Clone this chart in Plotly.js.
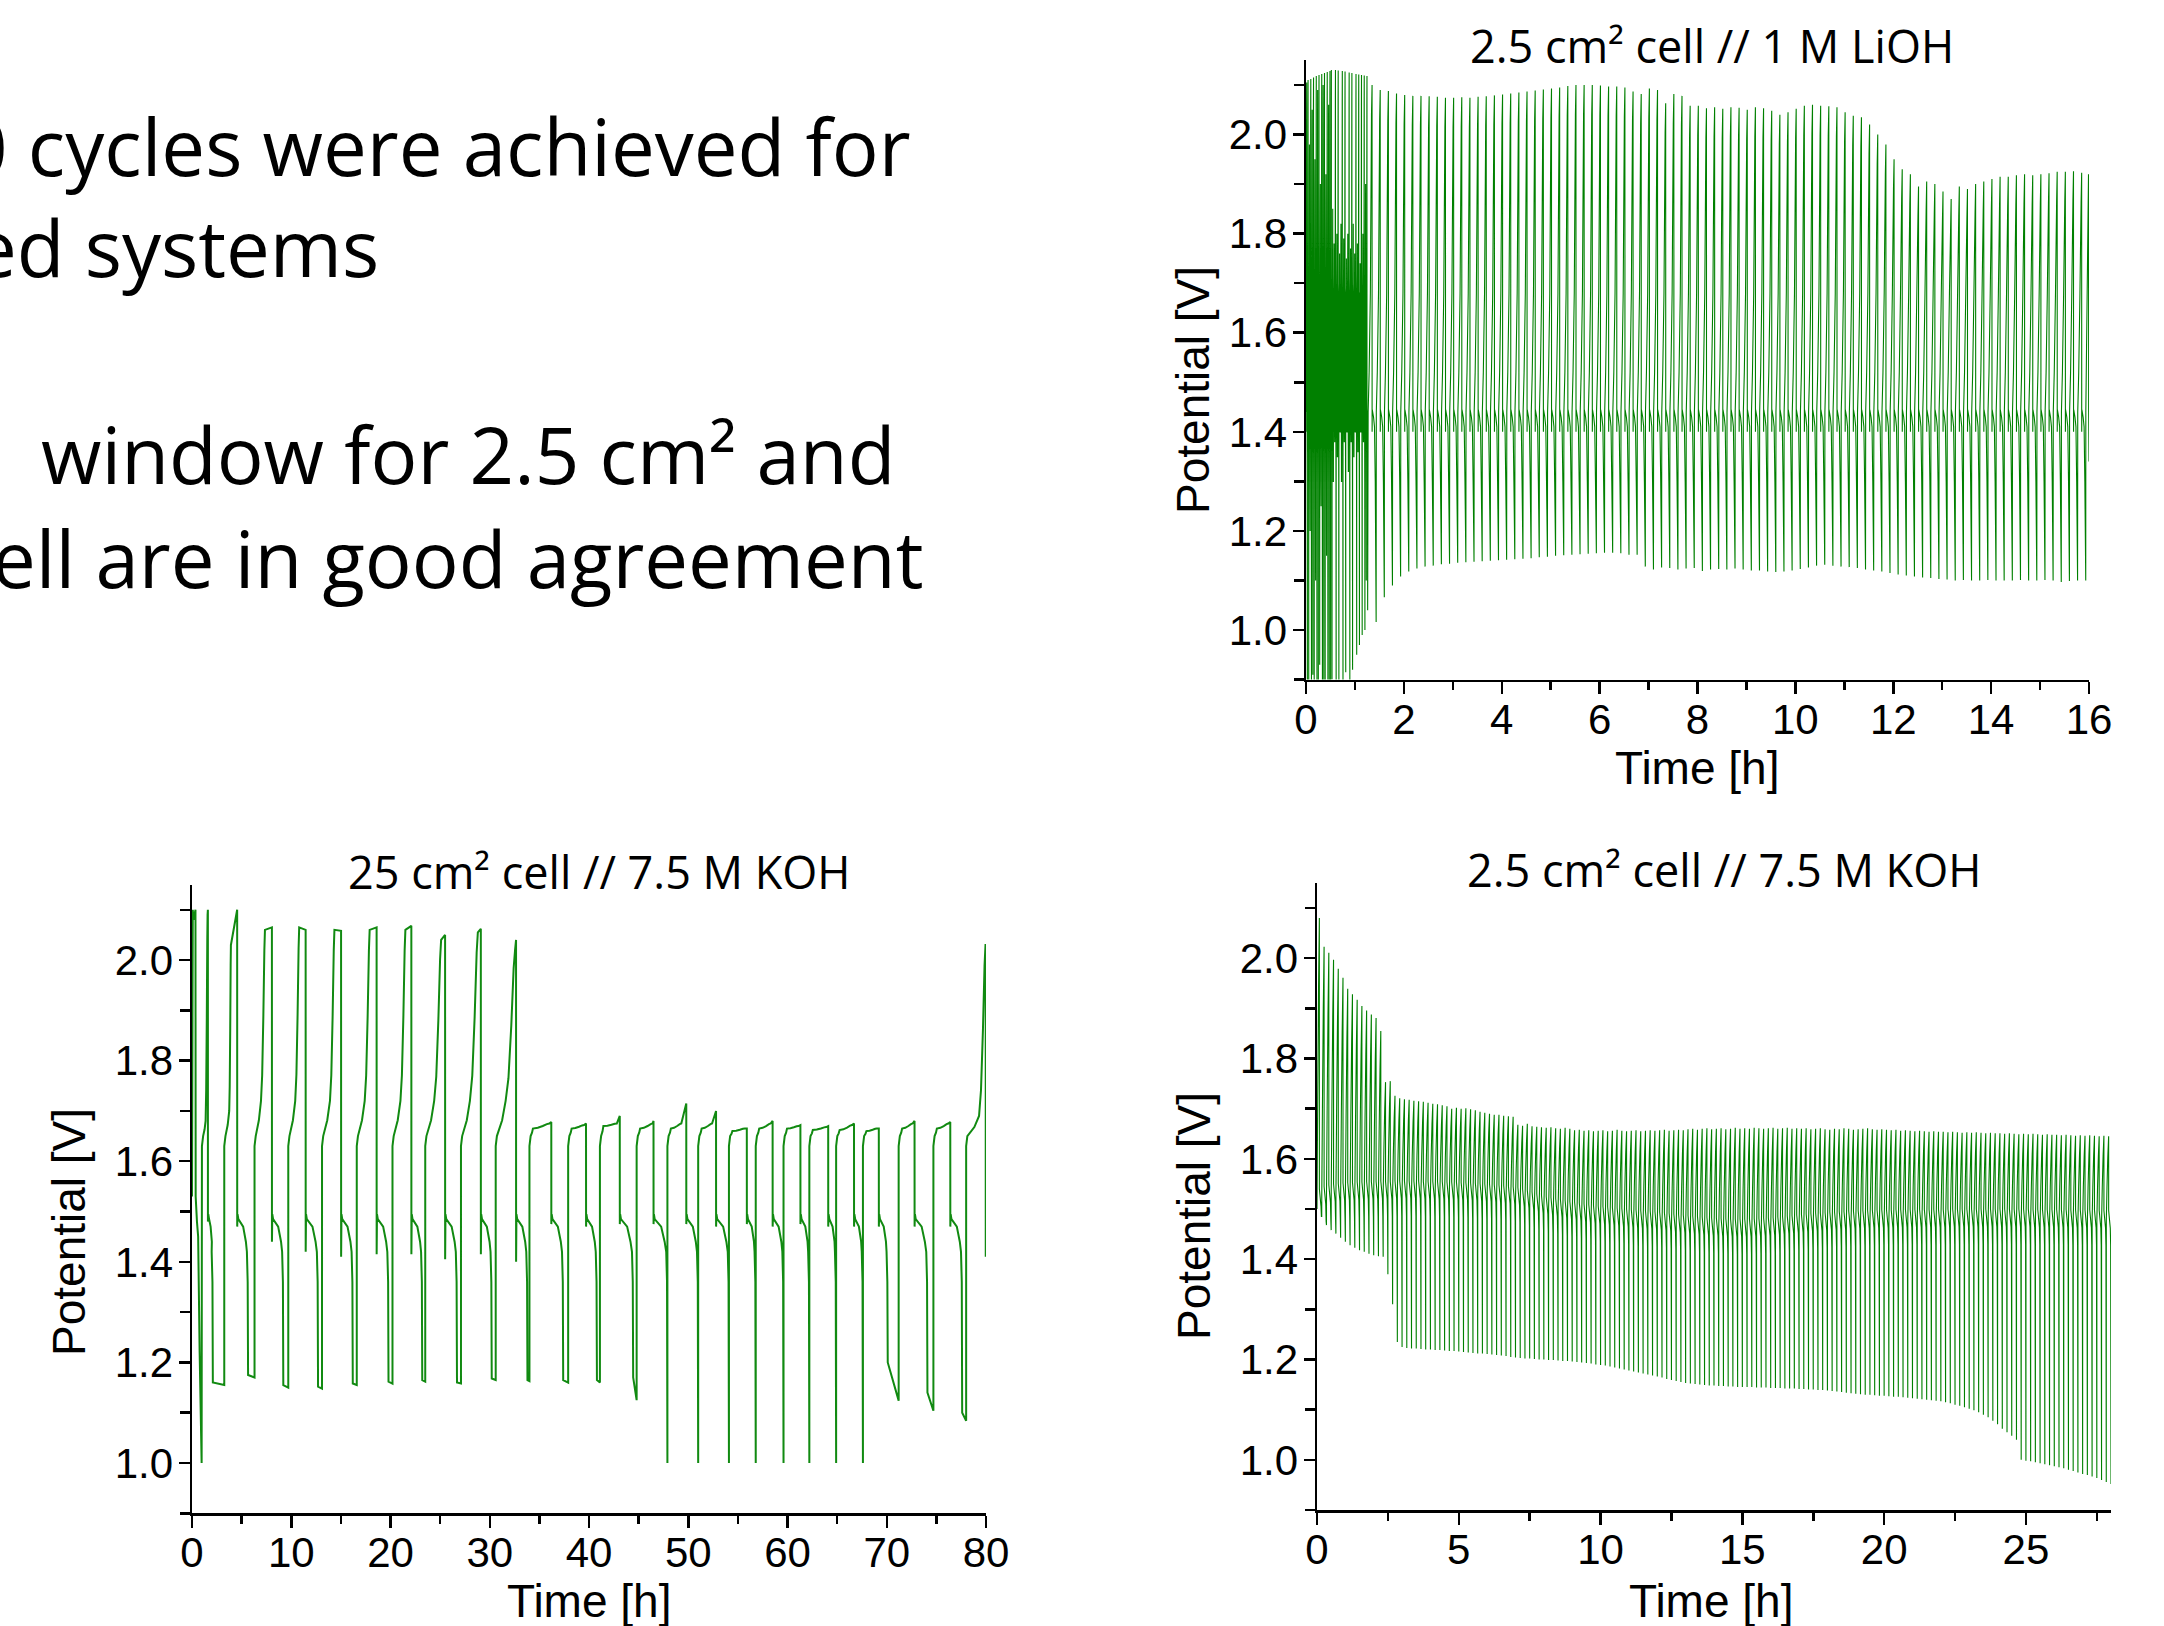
<!DOCTYPE html>
<html><head><meta charset="utf-8">
<script src="https://cdn.plot.ly/plotly-3.0.1.min.js"></script>
<style>html,body{margin:0;padding:0;background:#fff;overflow:hidden}#chart{width:2164px;height:1626px}</style>
</head><body><div id="chart"></div>
<script>
// ===================== DATA =====================
// Panel A: 2.5 cm² cell // 1 M LiOH  (time in h, potential in V)
const liohFastPeakT = [0.014,0.042,0.070,0.098,0.126,0.154,0.182,0.210,0.238,0.266,0.294,0.322,0.350,0.378,0.406,0.434,0.462,0.490,0.518,0.546,0.574,0.602,0.630,0.658,0.686,0.714,0.742,0.770,0.798,0.826,0.854,0.882,0.910,0.938,0.966,0.994,1.022,1.050,1.078,1.106,1.134,1.162,1.190,1.218,1.246];
const liohFastTop = [2.105,2.110,1.980,2.112,2.050,2.115,1.950,2.118,2.090,2.120,1.900,2.122,2.100,2.124,1.920,2.126,2.060,2.128,2.130,1.850,1.780,2.130,1.800,2.129,1.760,1.820,2.128,1.790,2.127,1.750,1.800,2.125,1.770,2.124,1.820,1.760,2.122,1.780,2.121,1.740,2.120,1.800,2.119,1.900,2.118];
const liohFastBottom = [0.85,0.87,1.20,0.86,0.91,0.85,1.10,0.88,0.85,0.93,1.25,0.86,0.89,0.85,1.15,0.87,0.86,0.85,0.90,1.30,1.38,0.86,1.35,0.88,1.40,1.30,0.87,1.38,0.915,1.40,1.32,0.89,1.38,0.92,1.35,1.40,0.95,1.36,0.97,1.40,0.99,1.38,1.00,1.10,1.04];
const liohFirstPeakT = 1.35;       // first regular cycle (h)
const liohCycleHours = 1/6;        // 10-minute cycles
const liohTop = [2.100,2.090,2.088,2.083,2.080,2.078,2.078,2.077,2.076,2.074,
 2.074,2.075,2.074,2.076,2.077,2.079,2.081,2.083,2.085,2.087,
 2.089,2.091,2.093,2.095,2.098,2.100,2.100,2.100,2.099,2.097,
 2.097,2.095,2.087,2.082,2.093,2.090,2.063,2.082,2.078,2.058,
 2.058,2.053,2.055,2.052,2.055,2.054,2.050,2.055,2.053,2.048,
 2.040,2.045,2.052,2.058,2.060,2.058,2.057,2.055,2.045,2.038,
 2.035,2.020,2.000,1.980,1.950,1.930,1.920,1.895,1.905,1.900,
 1.885,1.870,1.895,1.890,1.900,1.905,1.910,1.915,1.915,1.918,
 1.920,1.918,1.920,1.922,1.925,1.925,1.926,1.923];
const liohBottom = [1.016,1.066,1.090,1.108,1.118,1.124,1.128,1.130,1.133,1.134,
 1.136,1.137,1.138,1.139,1.140,1.141,1.142,1.143,1.144,1.145,
 1.147,1.148,1.150,1.151,1.152,1.153,1.154,1.155,1.156,1.156,
 1.155,1.152,1.152,1.128,1.122,1.126,1.125,1.122,1.124,1.125,
 1.119,1.122,1.123,1.122,1.124,1.122,1.120,1.120,1.118,1.117,
 1.118,1.120,1.123,1.126,1.130,1.132,1.130,1.128,1.127,1.125,
 1.122,1.120,1.118,1.115,1.112,1.110,1.108,1.106,1.105,1.103,
 1.102,1.100,1.101,1.100,1.100,1.101,1.100,1.100,1.100,1.101,
 1.100,1.100,1.101,1.100,1.097,1.099,1.100,1.100];
const liohPlateauV = 1.445;
const liohTailT = [15.935, 15.99, 15.993, 16.0];
const liohTailV = [1.44, 1.92, 1.44, 1.34];

// Panel B: 25 cm² cell // 7.5 M KOH
const koh25InitT = [0, 0.08, 0.15, 0.35, 0.37, 0.5, 0.62, 0.77, 0.97];
const koh25InitV = [1.53, 2.10, 2.08, 2.10, 1.53, 1.48, 1.45, 1.22, 1.00];
const koh25ChargeStart = [1.0,3.25,6.3,9.7,13.1,16.6,20.2,23.5,27.1,30.6,34.0,37.9,41.1,44.8,47.9,51.0,54.1,56.8,59.6,62.2,64.9,67.6,71.2,74.7,78.0];
const koh25KneeT = [1.37,3.75,6.95,10.4,13.9,17.4,21.0,24.4,28.0,31.6,34.35,38.25,41.45,45.15,48.25,51.35,54.45,57.15,59.95,62.55,65.25,67.95,71.55,75.05,79.3];
const koh25KneeV = [1.68,1.70,1.72,1.72,1.72,1.72,1.72,1.72,1.72,1.72,1.665,1.665,1.67,1.665,1.665,1.665,1.66,1.665,1.665,1.662,1.662,1.66,1.665,1.665,1.69];
const koh25TopT = [1.57,3.92,7.35,10.8,14.35,17.9,21.5,25.1,28.8,32.55,36.0,39.5,42.8,46.4,49.3,52.4,55.7,58.3,61.1,63.9,66.5,69.0,72.6,76.2,79.95];
const koh25TopV = [2.09,2.03,2.06,2.065,2.06,2.06,2.06,2.04,2.055,2.02,1.675,1.672,1.675,1.675,1.675,1.675,1.665,1.675,1.67,1.668,1.672,1.665,1.675,1.675,2.03];
const koh25ChargeEnd = [1.6,4.55,8.05,11.45,15.02,18.6,22.1,25.5,29.1,32.65,36.2,39.7,43.1,46.5,49.8,52.8,55.9,58.5,61.3,64.1,66.7,69.2,72.8,76.4,79.97];
const koh25PeakV = [2.10,2.10,2.065,2.06,2.058,2.065,2.068,2.05,2.062,2.04,1.678,1.675,1.69,1.68,1.715,1.70,1.665,1.68,1.672,1.67,1.675,1.665,1.68,1.678,2.03];
const koh25DropV = [1.48,1.47,1.44,1.42,1.41,1.415,1.415,1.405,1.415,1.40,1.475,1.47,1.475,1.475,1.475,1.47,1.475,1.47,1.475,1.47,1.47,1.47,1.47,1.47,1.41];
const koh25DischargeEnd = [2.1,5.65,9.2,12.7,16.2,19.8,23.2,26.7,30.2,33.8,37.4,40.8,44.45,47.9,51.0,54.1,56.8,59.6,62.2,64.9,67.6,70.1,74.1,77.6];
const koh25DischargeEndV = [1.16,1.175,1.155,1.152,1.158,1.162,1.165,1.16,1.168,1.165,1.165,1.165,1.17,1.0,1.0,1.0,1.0,1.0,1.0,1.0,1.0,1.2,1.14,1.10];
const koh25RestEndV = [1.155,1.17,1.15,1.148,1.155,1.158,1.162,1.158,1.165,1.163,1.16,1.16,1.125,1.0,1.0,1.0,1.0,1.0,1.0,1.0,1.0,1.124,1.104,1.084];
const koh25TailT = [79.975, 80.0];
const koh25TailV = [1.41, 1.48];

// Panel C: 2.5 cm² cell // 7.5 M KOH  (one value per 10-minute cycle)
const koh2CycleHours = 1/6;
const koh2Top = [2.080,2.023,2.011,1.997,1.979,1.961,1.939,1.928,1.917,1.905,1.896,1.888,1.881,1.855,1.753,1.755,1.726,1.721,1.719,1.718,
 1.716,1.715,1.714,1.712,1.710,1.709,1.707,1.705,
 1.700,1.702,1.700,1.701,1.699,1.697,
 1.694,1.692,1.690,1.688,1.688,1.686,1.685,1.684,
 1.668,1.666,1.670,1.665,1.664,1.663,
 1.662,1.663,1.661,1.660,1.662,1.660,
 1.657,1.658,1.656,1.657,1.655,1.656,
 1.657,1.655,1.656,1.658,1.656,1.655,
 1.656,1.657,1.655,1.656,1.657,1.656,
 1.657,1.658,1.656,1.657,1.658,1.657,
 1.659,1.660,1.658,1.660,1.661,1.659,
 1.660,1.661,1.659,1.660,1.662,1.660,
 1.661,1.660,1.662,1.661,1.660,1.661,
 1.662,1.660,1.661,1.662,1.660,1.661,
 1.660,1.661,1.659,1.660,1.661,1.659,
 1.658,1.660,1.659,1.661,1.660,1.658,
 1.659,1.660,1.661,1.659,1.658,1.659,
 1.658,1.657,1.658,1.656,1.657,1.656,
 1.655,1.656,1.655,1.654,1.655,1.654,
 1.654,1.653,1.654,1.653,1.652,1.653,
 1.652,1.653,1.652,1.651,1.652,1.651,
 1.651,1.650,1.651,1.650,1.649,1.650,
 1.649,1.650,1.649,1.648,1.649,1.648,
 1.648,1.647,1.648,1.647,1.646,1.647,
 1.646,1.647,1.646,1.645,1.646,1.645];
const koh2Bottom = [1.485,1.468,1.458,1.451,1.443,1.435,1.428,1.423,1.418,1.415,1.411,1.408,1.406,1.405,1.370,1.310,1.235,1.225,
 1.223,1.222,1.222,1.221,1.220,1.220,1.219,1.219,1.218,1.217,1.217,1.216,
 1.215,1.214,1.213,1.212,1.212,1.211,1.210,1.209,1.208,1.207,1.205,1.204,
 1.203,1.202,1.202,1.201,1.200,1.200,1.199,1.199,1.198,1.197,1.197,1.196,
 1.195,1.194,1.193,1.192,1.190,1.189,1.188,1.186,1.184,1.182,1.180,1.178,
 1.176,1.174,1.172,1.170,1.168,1.166,1.164,1.161,1.159,1.157,1.155,1.153,
 1.152,1.151,1.150,1.149,1.148,1.148,1.147,1.147,1.146,1.146,1.145,1.145,
 1.145,1.145,1.144,1.144,1.144,1.143,1.143,1.143,1.142,1.142,1.142,1.141,
 1.141,1.140,1.140,1.139,1.139,1.138,1.137,1.136,1.135,1.134,1.133,1.132,
 1.131,1.130,1.130,1.129,1.128,1.128,1.127,1.126,1.126,1.125,1.124,1.123,
 1.122,1.121,1.120,1.119,1.118,1.117,
 1.115,1.113,1.110,1.108,1.105,1.102,
 1.099,1.095,1.090,1.085,1.078,1.071,
 1.062,1.055,1.048,1.040,1.000,0.998,
 0.997,0.995,0.993,0.991,0.989,0.987,
 0.985,0.983,0.980,0.978,0.975,0.972,
 0.970,0.967,0.964,0.960,0.956,0.952];
const koh2Plateau = [1.530,1.535,1.538,1.540,1.541,1.542,1.543,1.543,1.544,1.544,1.545,1.545,1.545,1.546,1.545,1.545,1.546,1.546,1.546,1.546,1.546,1.546,1.545,1.545,1.545,1.545,1.545,1.544,1.544,1.544,1.543,1.543,1.542,1.542,1.541,1.540,1.540,1.539,1.538,1.537,1.536,1.535,
 1.533,1.530,1.527,1.524,1.520,1.517,
 1.515,1.513,1.511,1.509,1.507,1.505,
 1.504,1.502,1.500,1.499,1.497,1.496,
 1.495,1.494,1.493,1.492,1.491,1.490,
 1.489,1.488,1.487,1.486,1.486,1.485,
 1.484,1.483,1.482,1.480,1.479,1.478,
 1.477,1.476,1.475,1.474,1.473,1.472,
 1.472,1.471,1.471,1.470,1.470,1.470,
 1.470,1.470,1.471,1.471,1.472,1.472,
 1.473,1.474,1.475,1.476,1.477,1.478,
 1.479,1.480,1.481,1.482,1.482,1.483,
 1.484,1.484,1.485,1.485,1.486,1.486,
 1.487,1.487,1.487,1.488,1.488,1.488,
 1.488,1.488,1.489,1.489,1.489,1.489,
 1.489,1.489,1.489,1.489,1.489,1.489,
 1.489,1.490,1.490,1.490,1.490,1.490,
 1.490,1.490,1.490,1.490,1.490,1.490,
 1.490,1.490,1.490,1.490,1.490,1.490,
 1.490,1.489,1.489,1.489,1.489,1.489,
 1.489,1.489,1.489,1.488,1.488,1.488,
 1.488,1.488,1.488,1.487,1.487,1.487];

// Titles and slide text
const panelTitles = ['2.5 cm² cell // 1 M LiOH', '25 cm² cell // 7.5 M KOH', '2.5 cm² cell // 7.5 M KOH'];
const xTitle = 'Time [h]';
const yTitle = 'Potential [V]';
const slideLines = ['0 cycles were achieved for', 'ed systems', 'window for 2.5 cm² and', 'ell are in good agreement'];

// ===================== BUILD CURVES =====================
function liohCycle(xs, ys, tp, T, B, P) {
  const k = liohPlateauV;
  const pts = [
    [tp-0.48*P, k-0.005], [tp-0.36*P, Math.min(T, k+0.075)], [tp-0.21*P, Math.min(T, k+0.235)],
    [tp-0.07*P, Math.max(Math.min(T, k+0.235), T-0.06)], [tp, T],
    [tp+0.006*P, k-0.045], [tp+0.024*P, k], [tp+0.18*P, Math.max(B, k-0.015)],
    [tp+0.30*P, Math.max(B, k-0.035)], [tp+0.39*P, Math.max(B, k-0.145)], [tp+0.50*P, B]
  ];
  pts.forEach(p => { xs.push(p[0]); ys.push(p[1]); });
}
const ax1 = [], ay1 = [];
ax1.push(0); ay1.push(1.50);
const nFast = Math.min(liohFastPeakT.length, liohFastTop.length, liohFastBottom.length);
for (let i = 0; i < nFast; i++) liohCycle(ax1, ay1, liohFastPeakT[i], liohFastTop[i], liohFastBottom[i], 0.028);
const nL = Math.min(liohTop.length, liohBottom.length);
for (let i = 0; i < nL; i++) liohCycle(ax1, ay1, liohFirstPeakT + i*liohCycleHours, liohTop[i], liohBottom[i], liohCycleHours);
liohTailT.forEach((t, i) => { ax1.push(t); ay1.push(liohTailV[i]); });

const ax2 = [], ay2 = [];
koh25InitT.forEach((t, i) => { ax2.push(t); ay2.push(koh25InitV[i]); });
for (let i = 0; i < koh25ChargeStart.length; i++) {
  const cs = koh25ChargeStart[i], kt = koh25KneeT[i], kv = koh25KneeV[i];
  const tt = koh25TopT[i], tv = koh25TopV[i], ce = koh25ChargeEnd[i], pv = koh25PeakV[i];
  const P = (x, y) => { ax2.push(x); ay2.push(y); };
  P(cs, 1.63); P(cs+0.12, 1.65);
  P(cs + 0.6*(kt-cs-0.12) + 0.12, 1.65 + 0.45*(kv-1.65));
  P(kt, kv);
  const d = tt - kt;
  P(kt+0.3*d, kv+0.15*(tv-kv)); P(kt+0.6*d, kv+0.5*(tv-kv)); P(kt+0.85*d, kv+0.88*(tv-kv));
  P(tt, tv); P(ce, pv);
  if (i < koh25DischargeEnd.length) {
    const de = koh25DischargeEnd[i], dv = koh25DischargeEndV[i];
    const dd = de - ce;
    P(ce+0.005, koh25DropV[i]); P(ce+0.04, 1.495); P(ce+0.12, 1.485);
    P(ce+0.55*dd, 1.47); P(ce+0.8*dd, 1.44); P(de-0.12, 1.42); P(de-0.04, 1.36);
    P(de, dv);
    P(koh25ChargeStart[i+1], koh25RestEndV[i]);
  } else {
    P(koh25TailT[0], koh25TailV[0]); P(koh25TailT[1], koh25TailV[1]);
  }
}

const ax3 = [], ay3 = [];
ax3.push(0); ay3.push(1.50);
const n3 = Math.min(koh2Top.length, koh2Bottom.length, koh2Plateau.length);
for (let k = 0; k < n3; k++) {
  const P = koh2CycleHours, t0 = k*P, T = koh2Top[k], B = koh2Bottom[k], M = koh2Plateau[k];
  const pts = [
    [t0+0.01*P, M-0.01], [t0+0.15*P, M+0.35*(T-M)], [t0+0.33*P, M+0.75*(T-M)], [t0+0.5*P, T],
    [t0+0.505*P, M+0.01], [t0+0.6*P, M], [t0+0.85*P, Math.max(B, M-0.025)],
    [t0+0.93*P, Math.max(B, M-0.06)], [t0+P, B]
  ];
  pts.forEach(p => { ax3.push(p[0]); ay3.push(p[1]); });
}

// ===================== LAYOUT =====================
const tickFont = {family: 'Liberation Sans, Arial, sans-serif', size: 42, color: '#000'};
const titleFont = {family: 'Liberation Sans, Arial, sans-serif', size: 46, color: '#000'};
const headFont = {family: 'Open Sans, Noto Sans, sans-serif', size: 45, color: '#000'};
const slideFont = {family: 'Open Sans, Noto Sans, sans-serif', size: 78, color: '#000'};

function xAxis(domain, range, dtick, minorDtick, anchor) {
  return {domain, range, anchor, tick0: 0, dtick, showline: true, linecolor: '#000', linewidth: 2.5,
    ticks: 'outside', ticklen: 12, tickwidth: 2.5, tickcolor: '#000', showgrid: false, zeroline: false,
    tickfont: tickFont, ticklabelstandoff: -11, fixedrange: true,
    minor: {ticks: 'outside', ticklen: 8, tickwidth: 2.5, tickcolor: '#000', tick0: 0, dtick: minorDtick, showgrid: false}};
}
function yAxis(domain, anchor) {
  return {domain, range: [0.9, 2.15], anchor, tick0: 1.0, dtick: 0.2, tickformat: '.1f', showline: true,
    linecolor: '#000', linewidth: 2.5, ticks: 'outside', ticklen: 11, tickwidth: 2.5, tickcolor: '#000',
    showgrid: false, zeroline: false, tickfont: tickFont, ticklabelstandoff: -3, fixedrange: true,
    minor: {ticks: 'outside', ticklen: 10, tickwidth: 2.5, tickcolor: '#000', tick0: 0.9, dtick: 0.1, showgrid: false}};
}
const W = 2164, H = 1626;
const px = x => x / W, py = y => 1 - y / H;
function ann(text, x, y, font, xanchor, angle) {
  return {text, x: px(x), y: py(y), xref: 'paper', yref: 'paper', showarrow: false, font,
    xanchor: xanchor || 'center', yanchor: 'middle', textangle: angle || 0};
}

const traces = [
  {x: ax1, y: ay1, xaxis: 'x', yaxis: 'y', mode: 'lines', line: {color: '#008000', width: 1.1, simplify: false}, hoverinfo: 'skip'},
  {x: ax2, y: ay2, xaxis: 'x2', yaxis: 'y2', mode: 'lines', line: {color: '#118a11', width: 2, simplify: false}, hoverinfo: 'skip'},
  {x: ax3, y: ay3, xaxis: 'x3', yaxis: 'y3', mode: 'lines', line: {color: '#008000', width: 1.1, simplify: false}, hoverinfo: 'skip'}
];

const layout = {
  width: W, height: H, margin: {l: 0, r: 0, t: 0, b: 0}, paper_bgcolor: '#fff', plot_bgcolor: '#fff', showlegend: false,
  xaxis: xAxis([1306/W, 2089/W], [0, 16], 2, 1, 'y'),
  yaxis: yAxis([py(679.6), py(60.2)], 'x'),
  xaxis2: xAxis([192/W, 986/W], [0, 80], 10, 5, 'y2'),
  yaxis2: yAxis([py(1513.3), py(884.6)], 'x2'),
  xaxis3: xAxis([1317/W, 2111/W], [0, 28], 5, 2.5, 'y3'),
  yaxis3: yAxis([py(1510), py(883)], 'x3'),
  annotations: [
    ann(panelTitles[0], 1712, 45.5, headFont),
    ann(panelTitles[1], 599, 871.5, headFont),
    ann(panelTitles[2], 1724, 869.5, headFont),
    ann(xTitle, 1697, 768, titleFont),
    ann(yTitle, 1193, 390, titleFont, 'center', -90),
    ann(xTitle, 589, 1601, titleFont),
    ann(yTitle, 69, 1232, titleFont, 'center', -90),
    ann(xTitle, 1711, 1601, titleFont),
    ann(yTitle, 1194, 1216, titleFont, 'center', -90),
    ann(slideLines[0], 913, 146.2, slideFont, 'right'),
    ann(slideLines[1], 381, 246.5, slideFont, 'right'),
    ann(slideLines[2], 897, 454.4, slideFont, 'right'),
    ann(slideLines[3], 926, 558.4, slideFont, 'right')
  ]
};
Plotly.newPlot('chart', traces, layout, {staticPlot: true, displayModeBar: false});
</script>
</body></html>
